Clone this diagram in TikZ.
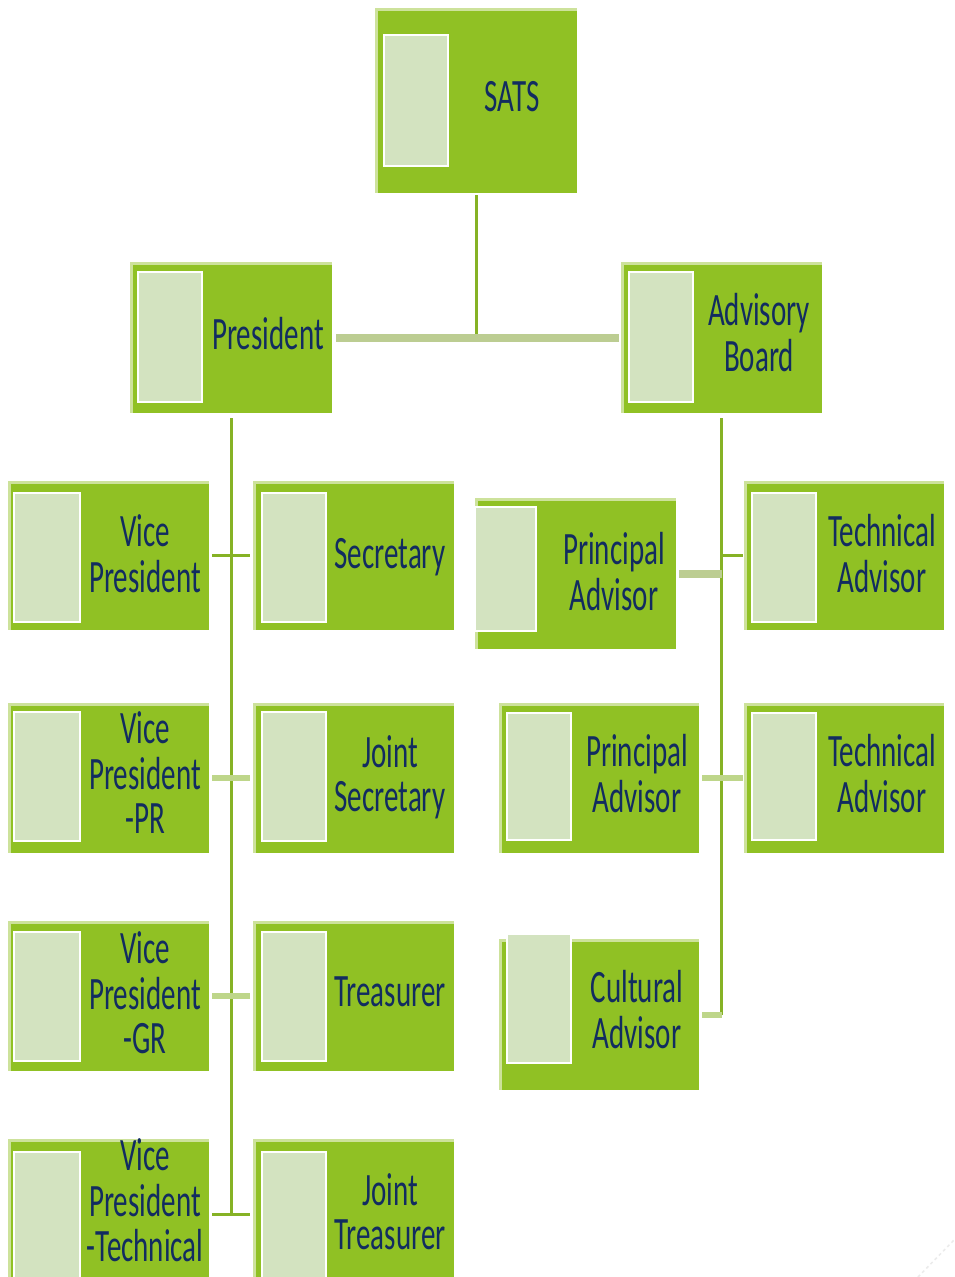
\documentclass[tikz,border=0pt]{standalone}
\usepackage{fontspec}
\setmainfont{Carlito}
\usepackage{graphicx}
\definecolor{boxgreen}{RGB}{144,193,36}
\definecolor{boxedge}{RGB}{205,226,155}
\definecolor{innerfill}{RGB}{211,227,192}
\definecolor{navytext}{RGB}{18,44,96}
\definecolor{conndark}{RGB}{134,178,37}
\definecolor{connpale}{RGB}{190,214,138}
\definecolor{connthick}{RGB}{188,205,146}
\newcommand{\orgtxt}[1]{\scalebox{1}[1.6]{\begin{tabular}{@{}c@{}}#1\end{tabular}}}
\tikzset{
  orgbox/.style={rectangle, inner sep=0pt, outer sep=0pt, minimum width=201pt, minimum height=150pt,
    fill=boxgreen, anchor=north west,
    path picture={\draw[boxedge, line width=6pt] (path picture bounding box.south west) -- (path picture bounding box.north west) -- (path picture bounding box.north east);}},
  orginner/.style={rectangle, inner sep=0pt, outer sep=0pt, minimum width=64pt, minimum height=129pt,
    fill=innerfill, draw=white, line width=2.5pt, anchor=north west},
  orglbl/.style={inner sep=0pt, text=navytext, font=\fontsize{29}{27.5}\selectfont},
  connd/.style={draw=conndark, line width=3pt},
  connp/.style={draw=connpale, line width=6pt},
  connt/.style={draw=connthick, line width=8pt},
}
\begin{document}
\begin{tikzpicture}[x=1pt,y=-1pt]
\clip (0,0) rectangle (954,1277);
\fill[white] (0,0) rectangle (954,1277);

% boxes
\node[orgbox, minimum width=202pt, minimum height=185pt] (sats) at (375,8) {};
\node[orginner, minimum height=131pt] (satsI) at (384,35) {};
\node[orglbl] (satsT) at (512,103) {\orgtxt{SATS}};

\node[orgbox, minimum width=202pt, minimum height=151pt] (pres) at (130,262) {};
\node[orginner, minimum height=130pt] (presI) at (138,272) {};
\node[orglbl] (presT) at (268,340) {\orgtxt{President}};

\node[orgbox, minimum height=151pt] (adv) at (621,262) {};
\node[orginner, minimum height=130pt] (advI) at (629,272) {};
\node[orglbl] (advT) at (759,339) {\orgtxt{Advisory\\Board}};

\node[orgbox, minimum height=149pt] (vp) at (8,481) {};
\node[orginner, minimum width=66pt] (vpI) at (14,493) {};
\node[orglbl] (vpT) at (145,560) {\orgtxt{Vice\\President}};

\node[orgbox, minimum height=149pt] (sec) at (253,481) {};
\node[orginner] (secI) at (262,493) {};
\node[orglbl] (secT) at (390,560) {\orgtxt{Secretary}};

\node[orgbox, minimum height=151pt] (pa1) at (475,498) {};
\node[orginner, minimum width=61pt, minimum height=124pt] (pa1I) at (475,507) {};
\node[orglbl] (pa1T) at (614,578) {\orgtxt{Principal\\Advisor}};

\node[orgbox, minimum width=200pt, minimum height=149pt] (ta1) at (744,481) {};
\node[orginner] (ta1I) at (752,493) {};
\node[orglbl] (ta1T) at (882,560) {\orgtxt{Technical\\Advisor}};

\node[orgbox] (vppr) at (8,703) {};
\node[orginner, minimum width=66pt] (vpprI) at (14,712) {};
\node[orglbl] (vpprT) at (145,779) {\orgtxt{Vice\\President\\-PR}};

\node[orgbox] (jsec) at (253,703) {};
\node[orginner] (jsecI) at (262,712) {};
\node[orglbl] (jsecT) at (390,780) {\orgtxt{Joint\\Secretary}};

\node[orgbox, minimum width=200pt] (pa2) at (499,703) {};
\node[orginner, minimum height=127pt] (pa2I) at (507,713) {};
\node[orglbl] (pa2T) at (637,780) {\orgtxt{Principal\\Advisor}};

\node[orgbox, minimum width=200pt] (ta2) at (744,703) {};
\node[orginner, minimum height=127pt] (ta2I) at (752,713) {};
\node[orglbl] (ta2T) at (882,780) {\orgtxt{Technical\\Advisor}};

\node[orgbox] (vpgr) at (8,921) {};
\node[orginner, minimum width=66pt] (vpgrI) at (14,932) {};
\node[orglbl] (vpgrT) at (145,999) {\orgtxt{Vice\\President\\-GR}};

\node[orgbox] (tre) at (253,921) {};
\node[orginner] (treI) at (262,932) {};
\node[orglbl] (treT) at (390,998) {\orgtxt{Treasurer}};

\node[orgbox, minimum width=200pt, minimum height=151pt] (ca) at (499,939) {};
\node[orginner] (caI) at (507,934) {};
\node[orglbl] (caT) at (637,1016) {\orgtxt{Cultural\\Advisor}};

\node[orgbox] (vpt) at (8,1139) {};
\node[orginner, minimum width=66pt] (vptI) at (14,1152) {};
\node[orglbl] (vptT) at (145,1207) {\orgtxt{Vice\\President\\-Technical}};

\node[orgbox] (jtre) at (253,1139) {};
\node[orginner] (jtreI) at (262,1152) {};
\node[orglbl] (jtreT) at (390,1218) {\orgtxt{Joint\\Treasurer}};

% connectors
\draw[connd] ([yshift=-2pt]sats.south) -- (sats.south |- pres.east);
\draw[connt] ([xshift=4pt]pres.east) -- ([xshift=-2pt]adv.west);
\draw[connd] ([yshift=-5pt]pres.south) -- (pres.south |- vpt.east);
\draw[connd] ([xshift=3pt]vp.east) -- ([xshift=-3pt]sec.west);
\draw[connp] ([xshift=3pt]vppr.east) -- ([xshift=-3pt]jsec.west);
\draw[connp] ([xshift=3pt]vpgr.east) -- ([xshift=-3pt]tre.west);
\draw[connd] ([xshift=3pt]vpt.east) -- ([xshift=-3pt]jtre.west);
\draw[connd] ([yshift=-5pt]adv.south) -- (adv.south |- ca.east);
\draw[connt] ([xshift=3pt]pa1.east) -- (adv.south |- pa1.east);
\draw[connd] (adv.south |- ta1.west) -- ([xshift=-1pt]ta1.west);
\draw[connp] ([xshift=3pt]pa2.east) -- ([xshift=-1pt]ta2.west);
\draw[connp] ([xshift=3pt]ca.east) -- (adv.south |- ca.east);

% faint mark bottom right
\draw[black!8, dashed, line width=1.5pt] (918,1277) -- (954,1240);
\end{tikzpicture}
\end{document}
